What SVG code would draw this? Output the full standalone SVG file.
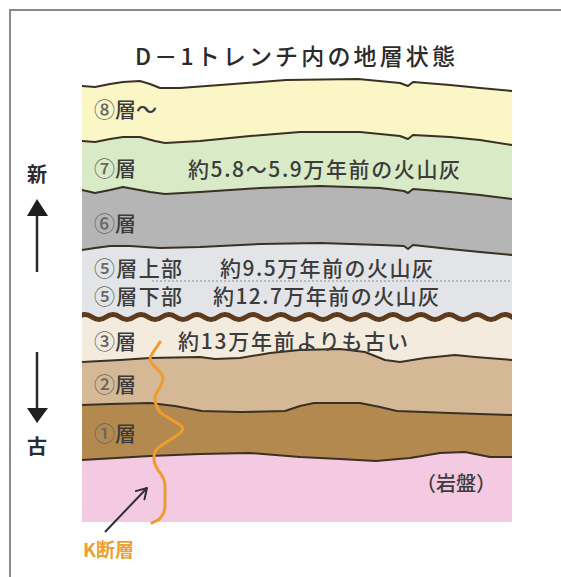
<svg xmlns="http://www.w3.org/2000/svg" width="561" height="577" viewBox="0 0 561 577">
  <defs>
    <style>
      .jp { font-family: "Noto Sans CJK JP", "Noto Sans", sans-serif; font-weight: 500; }
      .heavy { font-weight: 700; }
      .lbl { font-size: 21px; fill: #3c3c3c; }
      .num { fill: #666666; }
      .bound { fill: none; stroke: #3a3024; stroke-width: 2; stroke-linejoin: round; stroke-linecap: round; }
    </style>
    <clipPath id="strata-clip">
      <rect x="82" y="60" width="430" height="462"/>
    </clipPath>
    <marker id="open-head" markerWidth="14" markerHeight="14" refX="11" refY="7" orient="auto" markerUnits="userSpaceOnUse">
      <path d="M1,1 L11,7 L1,13" fill="none" stroke="#2e2d3a" stroke-width="2" stroke-linecap="round" stroke-linejoin="round"/>
    </marker>
  </defs>

  <rect width="561" height="577" fill="#ffffff"/>

  <!-- frame -->
  <g id="frame" stroke="#8a8a8a" stroke-width="2" fill="none">
    <path d="M10,577 L10,10 L561,10"/>
  </g>

  <!-- title -->
  <text id="title" class="jp" x="135" y="65" font-size="23" fill="#2b2b2b" textLength="320" lengthAdjust="spacing">D－1トレンチ内の地層状態</text>

  <!-- strata fills, each layer drawn from its top boundary down to the bottom -->
  <g id="strata" clip-path="url(#strata-clip)">
    <path id="layer8" fill="#fbf6c6" d="M82,86 L95,87 L110,84 L123,82 L140,81 L150,84 L160,88 L180,88 L220,85 L286,80 L358,79 L400,83 L408,86 L413,82 L450,85 L480,88 L512,91 L512,522 L82,522 Z"/>
    <path id="layer7" fill="#d9eac6" d="M82,141 L95,142 L110,139 L123,137 L140,137 L155,141 L165,143 L200,141 L250,136 L300,132 L360,132 L400,136 L408,139 L413,135 L450,137 L480,140 L512,145 L512,522 L82,522 Z"/>
    <path id="layer6" fill="#b5b5b5" d="M82,190 L95,193 L110,190 L123,187 L150,192 L165,194 L200,192 L260,188 L320,186 L380,188 L404,191 L408,193 L413,189 L450,192 L480,195 L512,199 L512,522 L82,522 Z"/>
    <path id="layer5" fill="#e2e4e7" d="M82,250 L95,248 L110,246 L130,246 L160,248 L200,247 L260,244 L320,243 L380,245 L404,246 L408,249 L413,245 L450,249 L480,252 L512,255 L512,522 L82,522 Z"/>
    <rect id="layer3" x="82" y="317" width="430" height="205" fill="#f3ebdd"/>
    <path id="layer2" fill="#d5b996" d="M82,362 L120,360 L150,358 L200,357 L215,359 L240,358 L270,353 L300,350 L340,349 L365,352 L385,360 L400,362 L425,358 L455,355 L475,357 L512,360 L512,522 L82,522 Z"/>
    <path id="layer1" fill="#b4894f" d="M82,405 L110,404 L150,403 L175,406 L202,411 L240,412 L285,411 L300,406 L314,403 L360,403 L380,407 L397,411 L450,413 L512,415 L512,522 L82,522 Z"/>
    <path id="bedrock" fill="#f4c9e2" d="M82,460 L150,456 L200,454 L250,453 L300,457 L340,459 L376,461 L410,458 L440,453 L465,452 L490,457 L512,457 L512,522 L82,522 Z"/>

    <!-- boundary lines -->
    <path class="bound" d="M82,86 L95,87 L110,84 L123,82 L140,81 L150,84 L160,88 L180,88 L220,85 L286,80 L358,79 L400,83 L408,86 L413,82 L450,85 L480,88 L512,91"/>
    <path class="bound" d="M82,141 L95,142 L110,139 L123,137 L140,137 L155,141 L165,143 L200,141 L250,136 L300,132 L360,132 L400,136 L408,139 L413,135 L450,137 L480,140 L512,145"/>
    <path class="bound" d="M82,190 L95,193 L110,190 L123,187 L150,192 L165,194 L200,192 L260,188 L320,186 L380,188 L404,191 L408,193 L413,189 L450,192 L480,195 L512,199"/>
    <path class="bound" d="M82,250 L95,248 L110,246 L130,246 L160,248 L200,247 L260,244 L320,243 L380,245 L404,246 L408,249 L413,245 L450,249 L480,252 L512,255"/>
    <line x1="152" y1="281" x2="512" y2="281" stroke="#8a8d92" stroke-width="1.2" stroke-dasharray="2,2"/>
    <!-- unconformity -->
    <path fill="none" stroke="#5d3b1c" stroke-width="5" d="M78,317 q7,-5 14,0 t14,0 t14,0 t14,0 t14,0 t14,0 t14,0 t14,0 t14,0 t14,0 t14,0 t14,0 t14,0 t14,0 t14,0 t14,0 t14,0 t14,0 t14,0 t14,0 t14,0 t14,0 t14,0 t14,0 t14,0 t14,0 t14,0 t14,0 t14,0 t14,0 t14,0 t14,0"/>
    <path class="bound" d="M82,362 L120,360 L150,358 L200,357 L215,359 L240,358 L270,353 L300,350 L340,349 L365,352 L385,360 L400,362 L425,358 L455,355 L475,357 L512,360"/>
    <path class="bound" d="M82,405 L110,404 L150,403 L175,406 L202,411 L240,412 L285,411 L300,406 L314,403 L360,403 L380,407 L397,411 L450,413 L512,415"/>
    <path class="bound" d="M82,460 L150,456 L200,454 L250,453 L300,457 L340,459 L376,461 L410,458 L440,453 L465,452 L490,457 L512,457"/>
  </g>

  <!-- K fault trace -->
  <path id="k-fault" fill="none" stroke="#ee9b2f" stroke-width="3" stroke-linecap="round" stroke-linejoin="round"
        d="M160,342 C156,349 150,354 150,360 C152,366 163,372 163,378 C163,386 155,392 155,398 C155,404 157,408 160,412 C166,418 183,424 183,429 C181,436 160,444 156,450 C153,455 153,462 158,470 C163,476 165,480 165,486 L165,505 C165,512 162,517 158,520 L152,523"/>

  <!-- labels inside layers -->
  <g id="labels" class="jp lbl">
    <text x="94" y="117"><tspan class="num">⑧</tspan>層～</text>
    <text x="94" y="176"><tspan class="num">⑦</tspan>層</text>
    <text x="188" y="177" textLength="272" lengthAdjust="spacing">約5.8～5.9万年前の火山灰</text>
    <text x="94" y="231"><tspan class="num">⑥</tspan>層</text>
    <text x="94" y="276" textLength="88" lengthAdjust="spacing"><tspan class="num">⑤</tspan>層上部</text>
    <text x="220" y="276" textLength="213" lengthAdjust="spacing">約9.5万年前の火山灰</text>
    <text x="94" y="304" textLength="88" lengthAdjust="spacing"><tspan class="num">⑤</tspan>層下部</text>
    <text x="213" y="304" textLength="226" lengthAdjust="spacing">約12.7万年前の火山灰</text>
    <text x="94" y="349"><tspan class="num">③</tspan>層</text>
    <text x="178" y="349" textLength="230" lengthAdjust="spacing">約13万年前よりも古い</text>
    <text x="94" y="392"><tspan class="num">②</tspan>層</text>
    <text x="94" y="441"><tspan class="num">①</tspan>層</text>
    <text x="416" y="491" font-size="20">（岩盤）</text>
  </g>

  <!-- time axis -->
  <g id="axis-new">
    <text class="jp heavy" x="37" y="182" font-size="20" fill="#2b2b2b" text-anchor="middle">新</text>
    <line x1="37" y1="214" x2="37" y2="272" stroke="#2b2b2b" stroke-width="2.5"/>
    <polygon points="37,199 48,216 27,216" fill="#1f1f1f"/>
  </g>
  <g id="axis-old">
    <line x1="37" y1="352" x2="37" y2="410" stroke="#2b2b2b" stroke-width="2.5"/>
    <polygon points="27,408 48,408 37,423" fill="#1f1f1f"/>
    <text class="jp heavy" x="37" y="454" font-size="20" fill="#2b2b2b" text-anchor="middle">古</text>
  </g>

  <!-- K fault callout -->
  <g id="k-fault-label">
    <line x1="105" y1="532" x2="147" y2="488" stroke="#2e2d3a" stroke-width="2" marker-end="url(#open-head)"/>
    <text class="jp heavy" x="83" y="557" font-size="19" fill="#f0a033">K断層</text>
  </g>
</svg>
